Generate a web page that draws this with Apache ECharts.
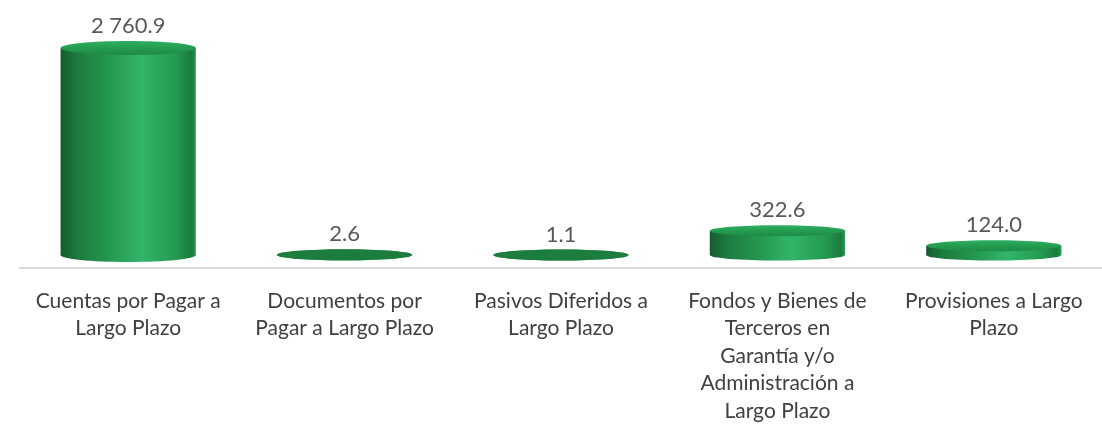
<!DOCTYPE html>
<html>
<head>
<meta charset="utf-8">
<script src="https://cdn.jsdelivr.net/npm/echarts@6/dist/echarts.min.js"></script>
<style>
html,body{margin:0;padding:0;background:#fff;}
#chart{width:1102px;height:427px;}
</style>
</head>
<body>
<div id="chart"></div>
<script>
var categories = [
  "Cuentas por Pagar a\nLargo Plazo",
  "Documentos por\nPagar a Largo Plazo",
  "Pasivos Diferidos a\nLargo Plazo",
  "Fondos y Bienes de\nTerceros en\nGarantía y/o\nAdministración a\nLargo Plazo",
  "Provisiones a Largo\nPlazo"
];
var values = [2760.9, 2.6, 1.1, 322.6, 124.0];

function fmt(v) {
  var s = v.toFixed(1);
  var parts = s.split('.');
  parts[0] = parts[0].replace(/\B(?=(\d{3})+(?!\d))/g, ' ');
  return parts.join('.');
}

var chart = echarts.init(document.getElementById('chart'), null, {renderer: 'canvas'});

var bodyGrad = new echarts.graphic.LinearGradient(0, 0, 1, 0, [
  {offset: 0, color: '#165a2f'},
  {offset: 0.12, color: '#1c7a40'},
  {offset: 0.35, color: '#24964e'},
  {offset: 0.6, color: '#31b56a'},
  {offset: 0.85, color: '#249a50'},
  {offset: 0.97, color: '#1b7a3f'},
  {offset: 1, color: '#2a9a55'}
]);
var topGrad = new echarts.graphic.LinearGradient(0, 0, 0, 1, [
  {offset: 0, color: '#2fae62'},
  {offset: 0.5, color: '#249c50'},
  {offset: 1, color: '#1f8a46'}
]);

chart.setOption({
  animation: false,
  grid: {left: 20, width: 1100, top: 30, bottom: 172, containLabel: false},
  xAxis: {
    type: 'category',
    data: categories,
    offset: 13,
    axisLine: {show: true, onZero: false, lineStyle: {color: '#d9d9d9', width: 2}},
    axisTick: {show: false},
    axisLabel: {
      interval: 0,
      margin: 19,
      fontFamily: 'Lato',
      fontSize: 21,
      lineHeight: 27.5,
      color: '#404040'
    }
  },
  yAxis: {
    type: 'value',
    min: 0,
    max: 3000,
    show: false,
    splitLine: {show: false}
  },
  series: [{
    type: 'custom',
    data: values.map(function (v, i) { return [i, v]; }),
    renderItem: function (params, api) {
      var idx = api.value(0);
      var v = api.value(1);
      var topPt = api.coord([idx, v]);
      var basePt = api.coord([idx, 0]);
      var w = api.size([1, 0])[0] * 0.625;
      var rx = w / 2;
      var ry = v > 1000 ? 7 : 5.5;
      var cx = topPt[0];
      var h = basePt[1] - topPt[1];
      var children = [];
      children.push({
        type: 'ellipse',
        shape: {cx: cx, cy: basePt[1], rx: rx, ry: ry},
        style: {fill: bodyGrad}
      });
      children.push({
        type: 'rect',
        shape: {x: cx - rx, y: topPt[1], width: w, height: Math.max(h, 0)},
        style: {fill: bodyGrad}
      });
      children.push({
        type: 'ellipse',
        shape: {cx: cx, cy: topPt[1], rx: rx, ry: ry},
        style: {fill: h < 2 ? '#1d7d3f' : topGrad}
      });
      children.push({
        type: 'text',
        style: {
          text: fmt(v),
          x: cx,
          y: topPt[1] - ry - 4,
          align: 'center',
          verticalAlign: 'bottom',
          fontFamily: 'Lato',
          fontSize: 22,
          fill: '#595959'
        }
      });
      return {type: 'group', children: children};
    }
  }]
});
</script>
</body>
</html>
